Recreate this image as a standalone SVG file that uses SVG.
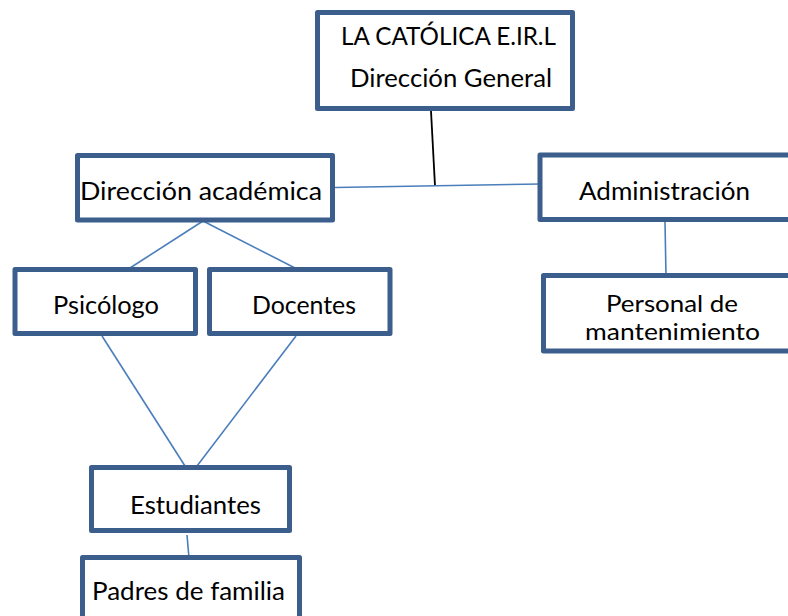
<svg xmlns="http://www.w3.org/2000/svg" width="788" height="616" viewBox="0 0 788 616">
<style>
.box{fill:#ffffff;stroke:#3B5E8C;stroke-width:5;stroke-linejoin:round}
.t{font-family:Lato,"Open Sans","Liberation Sans",sans-serif;font-size:25px;fill:#000}
.s{font-size:23px}
.c{stroke:#4A7EBB;stroke-width:1.6;fill:none}
.k{stroke:#000;stroke-width:1.8;fill:none}
</style>
<rect width="788" height="616" fill="#ffffff"/>
<g id="connectors">
<line class="k" x1="431" y1="111" x2="435" y2="186"/>
<line class="c" x1="335" y1="187.5" x2="541" y2="184"/>
<line class="c" x1="203" y1="221" x2="130" y2="268"/>
<line class="c" x1="203" y1="221" x2="295" y2="268"/>
<line class="c" x1="665" y1="221" x2="666" y2="276"/>
<line class="c" x1="102" y1="336" x2="185" y2="466"/>
<line class="c" x1="296" y1="336" x2="197" y2="466"/>
<line class="c" x1="187" y1="535" x2="189" y2="558"/>
</g>
<g id="direccion-general">
<rect class="box" x="317.5" y="12.5" width="255" height="96"/>
<text class="t" x="341" y="45" textLength="215" lengthAdjust="spacingAndGlyphs">LA CATÓLICA E.IR.L</text>
<text class="t" x="350" y="87" textLength="202" lengthAdjust="spacingAndGlyphs">Dirección General</text>
</g>
<g id="direccion-academica">
<rect class="box" x="77.5" y="155.5" width="255" height="64.5"/>
<text class="t" x="80" y="200" textLength="242" lengthAdjust="spacingAndGlyphs">Dirección académica</text>
</g>
<g id="administracion">
<rect class="box" x="540" y="155" width="260" height="64.5"/>
<text class="t" x="579" y="200" textLength="171" lengthAdjust="spacingAndGlyphs">Administración</text>
</g>
<g id="personal-mantenimiento">
<rect class="box" x="543.5" y="275.5" width="260" height="75.5"/>
<text class="t s" x="606" y="312" textLength="132" lengthAdjust="spacingAndGlyphs">Personal de</text>
<text class="t s" x="585" y="340" textLength="175" lengthAdjust="spacingAndGlyphs">mantenimiento</text>
</g>
<g id="psicologo">
<rect class="box" x="15" y="269.5" width="180.5" height="64"/>
<text class="t" x="53" y="314" textLength="106" lengthAdjust="spacingAndGlyphs">Psicólogo</text>
</g>
<g id="docentes">
<rect class="box" x="209.5" y="269.5" width="180.5" height="64"/>
<text class="t" x="252" y="314" textLength="104" lengthAdjust="spacingAndGlyphs">Docentes</text>
</g>
<g id="estudiantes">
<rect class="box" x="91.5" y="467.5" width="198" height="63"/>
<text class="t" x="130" y="514" textLength="131" lengthAdjust="spacingAndGlyphs">Estudiantes</text>
</g>
<g id="padres-familia">
<rect class="box" x="82.5" y="557.5" width="217" height="80"/>
<text class="t" x="92" y="600" textLength="193" lengthAdjust="spacingAndGlyphs">Padres de familia</text>
</g>
</svg>
